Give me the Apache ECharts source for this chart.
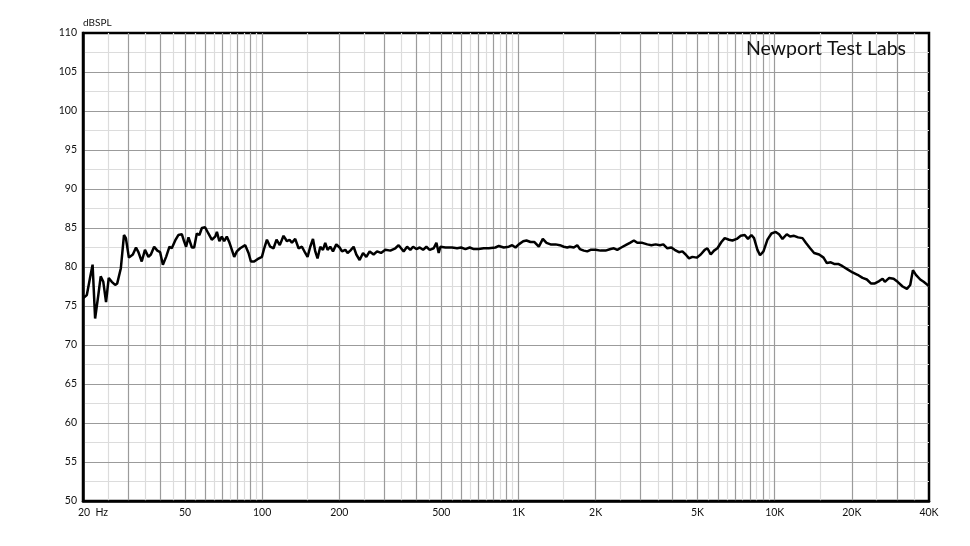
<!DOCTYPE html>
<html>
<head>
<meta charset="utf-8">
<title>Frequency response</title>
<script src="https://cdn.jsdelivr.net/npm/echarts@6/dist/echarts.min.js"></script>
<style>
  html, body { margin: 0; padding: 0; background: #fff; }
  #chart { width: 970px; height: 546px; }
</style>
</head>
<body>
<div id="chart"></div>
<script>
// frequency (Hz) and level (dB SPL)
var freq = [
  20, 20.2, 20.7, 21.3, 21.8, 22.3, 22.95, 23.45, 24.0, 24.6, 25.2, 25.9, 26.7, 27.2, 28.1,
  28.9, 29.4, 30.2, 31.3, 32.2, 32.9, 33.9, 34.9, 36.0, 36.8, 37.9, 39.0, 40.0, 41.0, 42.2,
  43.5, 44.4, 45.8, 47.1, 48.6, 49.6, 50.5, 51.6, 53.2, 54.3, 55.6, 56.9, 58.2, 59.9, 61.7,
  63.6, 65.6, 66.6, 68.1, 69.6, 71.1, 72.8, 74.6, 76.2, 77.8, 79.7, 82.1, 85.9, 88.5, 90.4,
  93.1, 95.9, 99.8, 101.9, 104.4, 107.5, 110.8, 113.8, 117.2, 121.2, 125.0, 127.9, 130.7, 134.6, 138.7,
  143.0, 147.3, 150.4, 154.1, 157.9, 161.2, 164.5, 168.6, 172.7, 176.3, 180.0, 184.4, 189.0, 194.7, 200.6,
  204.9, 211.1, 215.5, 220.8, 227.5, 233.1, 240.1, 247.6, 255.0, 262.7, 272.3, 280.8, 291.0, 302.5, 316.4,
  331.0, 340.9, 348.4, 356.6, 367.7, 378.7, 388.1, 399.8, 411.8, 424.6, 437.4, 450.6, 467.1, 478.6, 488.6,
  496.1, 519.0, 551.1, 576.5, 597.6, 621.2, 645.7, 669.3, 700, 732.2, 765.9, 813.5, 838.1, 876.6, 917.0,
  945.5, 974.0, 1003, 1044, 1075, 1115, 1155, 1201, 1245, 1287, 1335, 1396, 1451, 1504, 1551,
  1587, 1645, 1696, 1737, 1800, 1856, 1912, 2000, 2092, 2188, 2289, 2358, 2431, 2520, 2620,
  2723, 2822, 2910, 3044, 3184, 3301, 3431, 3566, 3677, 3812, 3951, 4070, 4230, 4362, 4494,
  4630, 4774, 4962, 5144, 5333, 5463, 5628, 5798, 5978, 6195, 6382, 6634, 6839, 7110, 7370,
  7638, 7868, 8112, 8306, 8562, 8766, 9040, 9370, 9712, 10094, 10400, 10724, 11146, 11482, 11902,
  12338, 12838, 13226, 13748, 14250, 14906, 15508, 15974, 16558, 17060, 17684, 18398, 19242, 20126, 21054,
  22022, 22890, 23728, 24596, 25566, 26362, 26914, 27974, 29104, 30170, 31556, 32802, 33790, 34624, 35566,
  36968, 38118, 39512, 40000
];
var spl = [
  76.0, 76.2, 76.4, 78.6, 80.3, 73.4, 76.4, 78.8, 78.1, 75.5, 78.6, 78.1, 77.7, 77.9, 79.85,
  84.1, 83.7, 81.2, 81.6, 82.5, 81.9, 80.7, 82.2, 81.3, 81.6, 82.6, 82.1, 81.9, 80.3, 81.3,
  82.6, 82.4, 83.4, 84.1, 84.2, 83.3, 82.6, 83.8, 82.5, 82.5, 84.3, 84.1, 85.0, 85.1, 84.3,
  83.5, 83.9, 84.5, 83.3, 83.9, 83.3, 83.9, 83.1, 82.2, 81.3, 82.0, 82.4, 82.8, 81.8, 80.7,
  80.7, 81.0, 81.3, 82.4, 83.5, 82.6, 82.4, 83.5, 82.8, 84.0, 83.3, 83.5, 83.1, 83.6, 82.4,
  82.6, 81.8, 81.3, 82.6, 83.6, 82.0, 81.1, 82.6, 82.2, 83.1, 82.2, 82.6, 82.0, 82.9, 82.5,
  82.0, 82.2, 81.8, 82.1, 82.6, 81.6, 80.9, 81.8, 81.3, 82.0, 81.6, 82.0, 81.8, 82.2, 82.1,
  82.4, 82.8, 82.4, 82.0, 82.6, 82.2, 82.6, 82.3, 82.5, 82.2, 82.6, 82.2, 82.4, 83.1, 81.8,
  82.6, 82.5, 82.5, 82.4, 82.5, 82.3, 82.5, 82.3, 82.3, 82.4, 82.4, 82.5, 82.7, 82.5, 82.6,
  82.8, 82.5, 82.9, 83.3, 83.4, 83.2, 83.2, 82.6, 83.6, 83.1, 82.9, 82.9, 82.8, 82.6, 82.5,
  82.6, 82.5, 82.8, 82.3, 82.1, 82.0, 82.2, 82.2, 82.1, 82.1, 82.3, 82.4, 82.2, 82.5, 82.8,
  83.1, 83.4, 83.1, 83.1, 82.9, 82.8, 82.9, 82.8, 82.9, 82.4, 82.5, 82.2, 81.9, 82.0, 81.6,
  81.1, 81.3, 81.2, 81.6, 82.2, 82.4, 81.6, 82.1, 82.4, 83.2, 83.7, 83.5, 83.4, 83.6, 84.0,
  84.1, 83.6, 84.1, 83.7, 82.2, 81.5, 82.0, 83.5, 84.3, 84.5, 84.2, 83.6, 84.2, 83.9, 84.0,
  83.8, 83.7, 83.1, 82.4, 81.8, 81.6, 81.2, 80.5, 80.6, 80.4, 80.4, 80.1, 79.7, 79.3, 79.0,
  78.6, 78.4, 77.9, 77.9, 78.2, 78.5, 78.1, 78.6, 78.5, 78.1, 77.5, 77.2, 77.7, 79.6, 79.0,
  78.4, 78.1, 77.7, 77.5
];

// grid lines (Hz)
var majorLines = [30, 40, 50, 60, 70, 80, 90, 100, 200, 300, 400, 500, 600, 700, 800, 900,
  1000, 2000, 3000, 4000, 5000, 6000, 7000, 8000, 9000, 10000, 20000, 30000];
var minorLines = [25, 35, 45, 55, 65, 75, 85, 95, 150, 250, 350, 450, 550, 650, 750, 850, 950,
  1500, 2500, 3500, 4500, 5500, 6500, 7500, 8500, 9500, 15000, 25000, 35000];

// x tick labels
var labelFreqs = [20, 50, 100, 200, 500, 1000, 2000, 5000, 10000, 20000, 40000];
var labelTexts = ['20  Hz', '50', '100', '200', '500', '1K', '2K', '5K', '10K', '20K', '40K'];

var xMin = Math.log10(20);
var xMax = Math.log10(40000);
var data = freq.map(function (f, i) { return [Math.log10(f), spl[i]]; });

var labelFont = { fontFamily: 'Lato', fontSize: 10.5, color: '#111' };

var chart = echarts.init(document.getElementById('chart'));
var option = {
  animation: false,
  title: {
    text: 'Newport Test Labs',
    right: 59,
    top: 34,
    textStyle: { fontFamily: 'Lato', fontSize: 19.5, fontWeight: 'normal', color: '#111' }
  },
  grid: {
    left: 83, right: 41, top: 33, bottom: 45,
    show: true,
    borderColor: '#000',
    borderWidth: 2.5,
    backgroundColor: '#fff'
  },
  xAxis: [
    {
      type: 'value',
      min: xMin,
      max: xMax,
      position: 'bottom',
      z: 1,
      axisLine: { show: true, lineStyle: { color: '#000', width: 2.5 } },
      axisTick: { show: false, customValues: majorLines.map(Math.log10) },
      axisLabel: {
        customValues: labelFreqs.map(Math.log10),
        margin: 6,
        fontFamily: labelFont.fontFamily,
        fontSize: labelFont.fontSize,
        color: labelFont.color,
        formatter: function (v) {
          var f = Math.pow(10, v);
          var best = 0;
          for (var i = 1; i < labelFreqs.length; i++) {
            if (Math.abs(labelFreqs[i] - f) < Math.abs(labelFreqs[best] - f)) best = i;
          }
          if (best === 0) return '{first|' + labelTexts[0] + '}';
          return labelTexts[best];
        },
        rich: {
          first: { fontFamily: 'Lato', fontSize: 10.5, color: '#111', padding: [0, 0, 0, 20] }
        }
      },
      splitLine: { show: true, lineStyle: { color: '#9b9b9b', width: 1.2 } }
    },
    {
      type: 'value',
      min: xMin,
      max: xMax,
      position: 'bottom',
      z: 0,
      axisLine: { show: false },
      axisTick: { show: false, customValues: minorLines.map(Math.log10) },
      axisLabel: { show: false },
      splitLine: { show: true, lineStyle: { color: '#dcdcdc', width: 1.2 } }
    }
  ],
  yAxis: {
    type: 'value',
    min: 50,
    max: 110,
    interval: 5,
    z: 1,
    name: 'dBSPL',
    nameLocation: 'end',
    nameGap: 5,
    nameTextStyle: { fontFamily: 'Lato', fontSize: 10, color: '#111', align: 'left' },
    axisLine: { show: true, lineStyle: { color: '#000', width: 2.5 } },
    axisTick: { show: false },
    minorTick: { show: false, splitNumber: 2 },
    axisLabel: {
      margin: 6,
      fontFamily: labelFont.fontFamily,
      fontSize: labelFont.fontSize,
      color: labelFont.color
    },
    splitLine: { show: true, showMinLine: false, showMaxLine: false, lineStyle: { color: '#9b9b9b', width: 1.2 } },
    minorSplitLine: { show: true, lineStyle: { color: '#dcdcdc', width: 1.2 } }
  },
  series: [
    {
      type: 'line',
      xAxisIndex: 0,
      data: data,
      showSymbol: false,
      symbol: 'none',
      smooth: false,
      lineStyle: { color: '#000', width: 2.5 },
      z: 3
    }
  ]
};
chart.setOption(option);
</script>
</body>
</html>
